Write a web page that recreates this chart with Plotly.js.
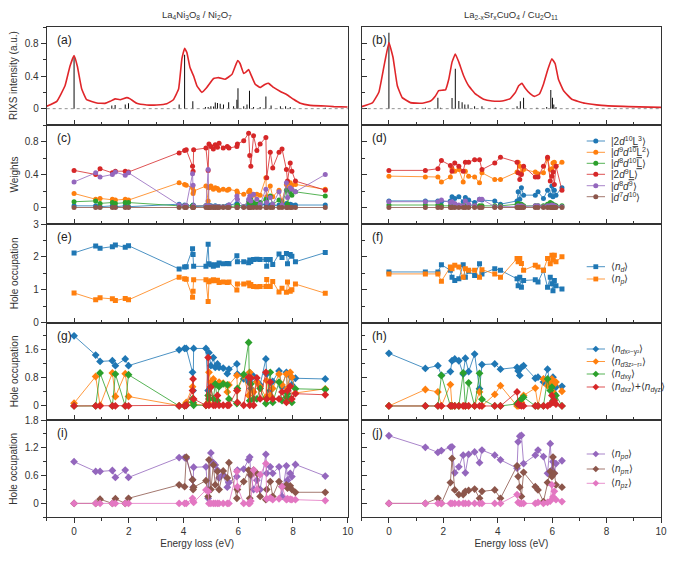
<!DOCTYPE html>
<html><head><meta charset="utf-8">
<script src="https://cdn.plot.ly/plotly-3.0.1.min.js"></script>
<style>html,body{margin:0;padding:0;background:#fff}#chart{width:675px;height:563px}</style>
</head><body><div id="chart"></div>
<script>
// ---------------- DATA ----------------
const A_CURVE_X = [-1,-0.63,-0.33,-0.15,0,0.12,0.28,0.46,0.83,1.13,1.32,1.5,1.68,1.93,2.05,2.29,2.66,3.02,3.39,3.63,3.82,3.94,4.04,4.12,4.24,4.37,4.49,4.67,4.85,5.1,5.28,5.52,5.77,5.89,5.98,6.07,6.2,6.29,6.38,6.46,6.62,6.8,6.99,7.11,7.29,7.54,7.78,8.02,8.27,8.63,9.18,9.49,10];
const A_CURVE_Y = [0.03,0.09,0.28,0.52,0.65,0.52,0.24,0.11,0.07,0.065,0.09,0.12,0.11,0.135,0.12,0.065,0.045,0.045,0.06,0.11,0.24,0.61,0.74,0.69,0.50,0.40,0.28,0.20,0.26,0.37,0.38,0.36,0.42,0.52,0.59,0.55,0.43,0.45,0.48,0.42,0.30,0.26,0.30,0.31,0.26,0.21,0.17,0.115,0.065,0.04,0.033,0.025,0.02];
const A_STICK_X = [0,0.83,1.38,1.5,1.87,1.99,3.84,4.04,4.34,4.8,4.9,5.0,5.1,5.16,5.24,5.34,5.46,5.65,5.83,5.95,5.99,6.2,6.32,6.41,6.56,6.8,7.01,7.2,7.54,7.73,7.9,9.18];
const A_STICK_Y = [0.64,0.01,0.04,0.045,0.05,0.065,0.05,0.66,0.09,0.02,0.02,0.03,0.025,0.075,0.07,0.06,0.05,0.08,0.03,0.11,0.25,0.03,0.05,0.22,0.02,0.02,0.15,0.04,0.03,0.03,0.02,0.01];

const B_CURVE_X = [-1,-0.61,-0.37,-0.18,0,0.15,0.31,0.49,0.79,1.22,1.53,1.71,1.83,1.96,2.08,2.2,2.32,2.44,2.57,2.75,2.93,3.18,3.48,3.79,4.16,4.46,4.65,4.77,4.89,5.01,5.2,5.35,5.53,5.68,5.84,5.99,6.11,6.23,6.42,6.72,7.21,7.82,8.8,10];
const B_CURVE_Y = [0.025,0.07,0.2,0.52,0.81,0.63,0.28,0.135,0.074,0.066,0.094,0.156,0.22,0.226,0.23,0.36,0.57,0.67,0.57,0.40,0.28,0.18,0.115,0.094,0.094,0.123,0.2,0.28,0.31,0.25,0.18,0.15,0.18,0.30,0.48,0.61,0.55,0.36,0.22,0.115,0.066,0.04,0.025,0.016];
const B_STICK_X = [0,1.34,1.8,1.9,2.32,2.44,2.57,2.69,2.79,2.91,3.15,3.42,3.91,4.71,4.83,4.95,5.44,5.8,5.95,6.01,6.06,6.14];
const B_STICK_Y = [0.93,0.01,0.135,0.01,0.13,0.49,0.094,0.08,0.05,0.05,0.03,0.03,0.01,0.03,0.09,0.135,0.01,0.02,0.23,0.135,0.05,0.02];

// eigenstate energies
const E_LEFT = [0,0.79,0.95,1.4,1.51,1.87,1.99,3.84,4.04,4.1,4.33,4.35,4.37,4.82,4.9,4.93,5.0,5.09,5.16,5.24,5.3,5.45,5.6,5.66,5.95,5.97,6.2,6.38,6.42,6.46,6.56,6.68,6.8,7.01,7.04,7.17,7.26,7.49,7.6,7.76,7.8,7.9,7.96,8.09,9.18];
const E_RIGHT = [0,1.34,1.8,1.93,2.26,2.32,2.42,2.57,2.73,2.81,2.93,3.15,3.33,3.42,3.89,4.1,4.71,4.75,4.81,4.87,4.95,5.38,5.48,5.68,5.83,5.93,5.99,6.03,6.08,6.14,6.36];

// (c) weights, left
const WL_2D10L3 = [0.02,0.02,0.01,0.02,0.01,0.02,0.01,0.04,0.03,0.02,0.02,0.03,0.01,0.02,0.01,0.02,0.02,0.01,0.02,0.01,0.01,0.01,0.02,0.03,0.05,0.03,0.01,0.03,0.02,0.04,0.03,0.02,0.03,0.04,0.02,0.03,0.02,0.03,0.02,0.05,0.03,0.04,0.03,0.03,0.03];
const WL_D9D10L2 = [0.17,0.10,0.11,0.10,0.09,0.10,0.09,0.30,0.28,0.27,0.24,0.17,0.20,0.26,0.08,0.24,0.26,0.22,0.24,0.23,0.21,0.22,0.21,0.22,0.20,0.18,0.16,0.19,0.21,0.17,0.15,0.16,0.15,0.36,0.13,0.26,0.13,0.21,0.08,0.28,0.22,0.30,0.27,0.28,0.22];
const WL_D8D10L = [0.07,0.08,0.05,0.06,0.05,0.06,0.06,0.02,0.02,0.02,0.02,0.01,0.02,0.02,0.01,0.02,0.01,0.01,0.01,0.01,0.01,0.01,0.01,0.01,0.02,0.03,0.01,0.07,0.05,0.10,0.06,0.04,0.06,0.10,0.08,0.14,0.04,0.09,0.03,0.21,0.04,0.19,0.15,0.19,0.14];
const WL_2D9L = [0.45,0.40,0.47,0.42,0.44,0.44,0.43,0.66,0.69,0.70,0.50,0.44,0.70,0.72,0.45,0.77,0.74,0.71,0.76,0.73,0.78,0.72,0.74,0.72,0.74,0.77,0.81,0.90,0.63,0.50,0.87,0.69,0.77,0.85,0.36,0.67,0.48,0.67,0.71,0.46,0.32,0.54,0.44,0.32,0.21];
const WL_D8D9 = [0.31,0.42,0.37,0.40,0.43,0.39,0.42,0.03,0.02,0.02,0.41,0.27,0.02,0.02,0.46,0.02,0.01,0.01,0.01,0.01,0.01,0.01,0.01,0.03,0.14,0.10,0.01,0.10,0.14,0.08,0.16,0.10,0.04,0.22,0.06,0.12,0.04,0.19,0.03,0.30,0.12,0.24,0.22,0.19,0.40];
const WL_D7D10 = [0,0,0,0,0,0,0,0,0,0,0,0,0,0,0,0,0,0,0,0,0,0,0,0,0,0,0,0,0,0,0,0,0,0,0,0,0,0,0,0,0,0,0,0,0];
// (d) weights, right
const WR_2D10L3 = [0.08,0.08,0.08,0.07,0.08,0.13,0.11,0.13,0.07,0.12,0.09,0.06,0.10,0.09,0.08,0.04,0.08,0.19,0.10,0.24,0.15,0.15,0.19,0.11,0.21,0.15,0.26,0.13,0.21,0.15,0.24];
const WR_D9D10L2 = [0.38,0.37,0.37,0.31,0.37,0.47,0.44,0.46,0.31,0.44,0.38,0.37,0.30,0.42,0.34,0.34,0.43,0.55,0.50,0.42,0.46,0.43,0.41,0.42,0.59,0.46,0.47,0.54,0.55,0.50,0.55];
const WR_D8D10L = [0.03,0.03,0.03,0.02,0.02,0.02,0.02,0.02,0.02,0.02,0.02,0.02,0.02,0.02,0.02,0.02,0.04,0.05,0.04,0.04,0.02,0.02,0.02,0.02,0.04,0.06,0.05,0.03,0.03,0.02,0.02];
const WR_2D9L = [0.45,0.45,0.47,0.57,0.51,0.44,0.54,0.50,0.44,0.55,0.55,0.58,0.58,0.46,0.54,0.61,0.55,0.42,0.34,0.40,0.50,0.37,0.37,0.50,0.61,0.32,0.38,0.43,0.28,0.50,0.21];
const WR_D8D9 = [0.07,0.07,0.07,0.09,0.06,0.07,0.05,0.03,0.02,0.08,0.04,0.02,0.10,0.10,0.01,0.01,0.01,0.02,0.01,0.02,0.01,0.02,0.02,0.01,0.02,0.02,0.03,0.01,0.02,0.01,0.01];
const WR_D7D10 = [0,0,0,0,0,0,0,0,0,0,0,0,0,0,0,0,0,0,0,0,0,0,0,0,0,0,0,0,0,0,0];

// (e),(f) hole occupation n_d, n_p
const ND_LEFT = [2.12,2.33,2.26,2.31,2.36,2.29,2.34,1.63,1.69,1.70,2.25,2.07,1.71,1.71,2.38,1.79,1.76,1.71,1.76,1.74,1.81,1.79,1.80,1.79,2.03,1.85,1.85,1.82,1.90,1.86,1.92,1.93,1.92,1.92,1.71,1.92,1.77,2.09,1.98,2.10,1.79,2.07,2.02,1.85,2.13];
const NP_LEFT = [0.90,0.69,0.75,0.72,0.67,0.73,0.69,1.38,1.33,1.32,0.77,0.95,1.30,1.30,0.64,1.24,1.27,1.30,1.27,1.29,1.22,1.23,1.22,1.23,0.99,1.17,1.17,1.20,1.12,1.16,1.10,1.09,1.10,1.10,1.31,1.10,1.25,0.93,1.04,0.92,1.23,0.95,1.00,1.17,0.89];
const ND_RIGHT = [1.54,1.54,1.54,1.76,1.59,1.38,1.28,1.33,1.76,1.38,1.56,1.43,1.79,1.48,1.64,1.59,1.33,1.12,1.38,1.07,1.28,1.30,1.23,1.59,1.07,1.38,1.18,0.97,1.28,1.12,1.02];
const NP_RIGHT = [1.48,1.48,1.48,1.26,1.69,1.64,1.74,1.69,1.38,1.64,1.59,1.59,1.38,1.61,1.48,1.38,1.95,1.85,1.95,1.80,1.59,1.74,1.69,1.59,1.95,1.79,2.05,1.90,2.05,1.85,2.00];

// (g),(h) d-orbital hole occupation
const DL_X2Y2 = [2.00,1.45,1.27,1.29,1.15,1.34,1.15,1.60,1.64,1.64,0.96,0.44,1.64,1.64,0.44,1.52,1.15,1.38,1.10,1.20,1.10,1.08,0.92,1.05,1.20,0.91,0.77,0.68,0.95,0.50,0.85,0.70,0.60,1.34,0.91,0.44,0.70,1.00,0.55,0.96,0.44,0.85,0.60,0.79,0.77];
const DL_3Z2R2 = [0.08,0.84,0.02,0.94,0.27,0.92,0.27,0.01,0.02,0.10,0.55,0.20,0.05,0.02,0.10,0.96,0.68,0.77,0.63,0.60,0.68,0.65,0.40,0.60,0.87,0.44,0.87,0.30,0.96,0.82,0.40,0.68,0.55,0.25,0.72,0.30,0.50,0.91,0.60,0.91,0.50,0.96,0.82,0.37,0.49];
const DL_XY = [0.00,0.00,0.94,0.00,0.91,0.00,0.89,0.00,0.00,0.02,0.20,0.10,0.02,0.02,0.30,0.20,0.54,0.20,0.63,0.15,0.55,0.63,0.60,0.20,0.07,0.50,0.90,1.81,0.15,0.63,0.20,0.20,0.50,0.07,0.20,0.96,0.10,0.68,0.15,0.25,0.35,0.20,0.10,0.49,0.47];
const DL_XZYZ = [0,0,0,0,0,0,0,0,0,0.02,0.44,0.77,0.20,0.02,1.38,0.02,0.54,0.02,0.02,0.30,0.02,0.02,0.02,0.02,0.44,0.10,0.02,0.82,0.02,0.80,0.02,0.80,0.20,0.96,0.20,0.68,0.20,0.20,0.40,0.10,0.44,0.56,0.20,0.35,0.32];
const DR_X2Y2 = [1.50,1.07,1.15,0.87,0.98,1.29,1.34,1.29,0.91,1.36,0.98,1.48,0.49,1.18,1.20,1.05,1.10,1.00,0.87,1.10,1.15,0.79,0.82,0.68,1.05,0.58,0.44,0.82,0.35,0.54,0.56];
const DR_3Z2R2 = [0.00,0.47,0.40,0.00,0.61,0.00,0.00,0.00,0.00,0.00,0.00,0.00,0.40,0.00,0.33,0.58,0.00,0.00,0.05,0.10,0.30,0.51,0.00,0.77,0.58,0.68,0.77,0.40,0.62,0.68,0.42];
const DR_XY = [0,0,0,0.87,0,0,0,0,0.94,0,0.66,0,0.93,0.19,0,0,0.06,0.10,0.15,0.20,0.25,0,0,0,0.77,0.44,0.54,0.15,0.20,0.30,0];
const DR_XZYZ = [0,0,0,0,0,0,0,0,0,0,0,0,0,0,0,0,0.40,0.05,0.02,0,0,0,0,0,0,0.05,0.30,0.10,0.15,0.05,0];

// (i),(j) p-orbital hole occupation
const PL_SIGMA = [0.90,0.69,0.69,0.71,0.56,0.72,0.56,0.99,0.99,0.97,0.51,0.35,0.78,0.79,0.11,0.29,1.09,0.88,0.83,0.72,0.55,0.62,0.35,0.45,0.58,0.72,0.74,0.94,1.00,0.60,0.30,0.50,0.30,1.06,0.65,0.79,0.65,0.79,0.15,0.81,0.50,0.65,0.58,0.84,0.59];
const PL_PI = [0,0,0.09,0,0.10,0,0.11,0.40,0.36,1.00,0.51,0.30,0.35,0.49,0.15,0.94,0.30,0.83,0.40,0.69,0.30,0.70,0.55,0.88,0.11,0.30,0.47,0.72,0.11,0.62,0.72,0.65,0.15,0.08,0.30,0.47,0.15,0.47,0.36,0.40,0.33,0.38,0.30,0.24,0.24];
const PL_Z = [0,0,0,0,0,0,0,0,0,0,0.11,0.05,0.02,0.29,0.26,0,0,0,0,0,0,0,0,0,0.69,0.36,0,0,0,0.05,0.72,0.30,0.62,0.86,0.10,0.12,0.08,0.10,0.36,0.08,0.10,0.09,0.08,0.08,0.06];
const PR_SIGMA = [1.46,1.21,1.10,1.14,1.21,1.22,0.66,0.79,1.04,0.66,1.06,1.11,0.88,1.15,1.04,0.94,0.76,1.33,1.45,1.47,0.86,1.04,1.15,1.01,0.65,1.29,0.72,0.90,0.65,0.86,0.92];
const PR_PI = [0,0,0.11,0,0.45,0.97,0.29,0.19,0.19,0.26,0.28,0.31,0.11,0.26,0.29,0.11,0.81,0.58,0.35,0.15,0.67,0.36,0.29,0.04,0.45,0.69,0.58,1.00,0.65,0.40,0.35];
const PR_Z = [0,0,0,0,0,0,0,0,0,0,0,0,0,0,0,0,0.19,0.02,0,0,0,0,0.02,0,0.02,0.05,0.40,0.14,0.26,0.08,0.04];

// labels
const COL_TITLES = ['La<sub>4</sub>Ni<sub>3</sub>O<sub>8</sub> / Ni<sub>2</sub>O<sub>7</sub>', 'La<sub>2-x</sub>Sr<sub>x</sub>CuO<sub>4</sub> / Cu<sub>2</sub>O<sub>11</sub>'];
const ROW_TITLES = ['RIXS intensity (a.u.)','Weights','Hole occupation','Hole occupation','Hole occupation'];
const PANEL_LABELS = ['(a)','(b)','(c)','(d)','(e)','(f)','(g)','(h)','(i)','(j)'];
const X_TITLE = 'Energy loss (eV)';
const LEG_W = ['|2<i>d</i><sup>10</sup><u>L</u><sup>3</sup>⟩','|<i>d</i><sup>9</sup><i>d</i><sup>10</sup><u>L</u><sup>2</sup>⟩','|<i>d</i><sup>8</sup><i>d</i><sup>10</sup><u>L</u>⟩','|2<i>d</i><sup>9</sup><u>L</u>⟩','|<i>d</i><sup>8</sup><i>d</i><sup>9</sup>⟩','|<i>d</i><sup>7</sup><i>d</i><sup>10</sup>⟩'];
const LEG_N = ['⟨<i>n</i><sub><i>d</i></sub>⟩','⟨<i>n</i><sub><i>p</i></sub>⟩'];
const LEG_D = ['⟨<i>n</i><sub><i>d</i><span style="font-size:6.5px">x²−y²</span></sub>⟩','⟨<i>n</i><sub><i>d</i><span style="font-size:6.5px">3z²−r²</span></sub>⟩','⟨<i>n</i><sub><i>d</i><span style="font-size:6.5px">xy</span></sub>⟩','⟨<i>n</i><sub><i>d</i><span style="font-size:6.5px">xz</span></sub>⟩+⟨<i>n</i><sub><i>d</i><span style="font-size:6.5px">yz</span></sub>⟩'];
const LEG_P = ['⟨<i>n</i><sub><i>p</i><span style="font-size:6.5px">σ</span></sub>⟩','⟨<i>n</i><sub><i>p</i><span style="font-size:6.5px">π</span></sub>⟩','⟨<i>n</i><sub><i>p</i><span style="font-size:6.5px">z</span></sub>⟩'];

// ---------------- STYLE / LAYOUT ----------------
const COL = {blue:'#1f77b4', orange:'#ff7f0e', green:'#2ca02c', red:'#d62728', purple:'#9467bd', brown:'#8c564b', pink:'#e377c2'};
function rgba(hex,a){const n=parseInt(hex.slice(1),16);return `rgba(${n>>16},${(n>>8)&255},${n&255},${a})`;}
const W=675,H=563;
const FONT='"Liberation Sans", Arial, sans-serif';
const colX=[[46.7,347.7],[361.7,661]];
const rowY=[[27,125],[125,224],[224,322.5],[322.5,420],[420,517.3]];
const rowCfg=[
  {range:[-0.2,1.0], tv:[0,0.4,0.8], mv:[-0.2,0.2,0.6,1.0]},
  {range:[-0.2,1.0], tv:[0,0.4,0.8], mv:[-0.2,0.2,0.6,1.0]},
  {range:[0,3], tv:[0,1,2,3], mv:[0.5,1.5,2.5]},
  {range:[-0.4,2.38], tv:[0,0.8,1.6], mv:[-0.4,0.4,1.2,2.0]},
  {range:[-0.3,1.8], tv:[0,0.6,1.2,1.8], mv:[-0.3,0.3,0.9,1.5]}
];
const ax = k => (k===1?'':String(k));
const traces=[];
function ser(x,y,color,symbol,size,k){
  traces.push({type:'scatter',mode:'lines+markers',x:x,y:y,xaxis:'x'+ax(k),yaxis:'y'+ax(k),
    line:{color:rgba(color,0.8),width:1},marker:{color:color,size:size,symbol:symbol,line:{width:0}},
    showlegend:false,hoverinfo:'skip'});
}
// (a),(b)
[[A_STICK_X,A_STICK_Y,A_CURVE_X,A_CURVE_Y,1],[B_STICK_X,B_STICK_Y,B_CURVE_X,B_CURVE_Y,2]].forEach(([sx,sy,cx,cy,k])=>{
  traces.push({type:'bar',x:sx,y:sy,width:0.035,marker:{color:'#000',line:{width:0}},xaxis:'x'+ax(k),yaxis:'y'+ax(k),showlegend:false,hoverinfo:'skip'});
  traces.push({type:'scatter',mode:'lines',x:cx,y:cy,line:{color:'#e0262a',width:1.6,shape:'spline',smoothing:0.3},xaxis:'x'+ax(k),yaxis:'y'+ax(k),showlegend:false,hoverinfo:'skip'});
});
// (c),(d)
const wCols=[COL.blue,COL.orange,COL.green,COL.red,COL.purple,COL.brown];
[WL_2D10L3,WL_D9D10L2,WL_D8D10L,WL_2D9L,WL_D8D9,WL_D7D10].forEach((s,i)=>ser(E_LEFT,s,wCols[i],'circle',5,3));
[WR_2D10L3,WR_D9D10L2,WR_D8D10L,WR_2D9L,WR_D8D9,WR_D7D10].forEach((s,i)=>ser(E_RIGHT,s,wCols[i],'circle',5,4));
// (e),(f)
ser(E_LEFT,ND_LEFT,COL.blue,'square',5,5); ser(E_LEFT,NP_LEFT,COL.orange,'square',5,5);
ser(E_RIGHT,ND_RIGHT,COL.blue,'square',5,6); ser(E_RIGHT,NP_RIGHT,COL.orange,'square',5,6);
// (g),(h)
const dCols=[COL.blue,COL.orange,COL.green,COL.red];
[DL_X2Y2,DL_3Z2R2,DL_XY,DL_XZYZ].forEach((s,i)=>ser(E_LEFT,s,dCols[i],'diamond',6,7));
[DR_X2Y2,DR_3Z2R2,DR_XY,DR_XZYZ].forEach((s,i)=>ser(E_RIGHT,s,dCols[i],'diamond',6,8));
// (i),(j)
const pCols=[COL.purple,COL.brown,COL.pink];
[PL_SIGMA,PL_PI,PL_Z].forEach((s,i)=>ser(E_LEFT,s,pCols[i],'diamond',6,9));
[PR_SIGMA,PR_PI,PR_Z].forEach((s,i)=>ser(E_RIGHT,s,pCols[i],'diamond',6,10));

const layout={width:W,height:H,margin:{l:0,r:0,t:0,b:0},paper_bgcolor:'#fff',plot_bgcolor:'#fff',
  font:{family:FONT,size:10,color:'#333'},showlegend:false,barmode:'overlay',shapes:[],annotations:[]};
const LINEC='#333';
for(let r=0;r<5;r++){for(let c=0;c<2;c++){
  const k=r*2+c+1, kt=k+10;
  const xd=[colX[c][0]/W,colX[c][1]/W], yd=[1-rowY[r][1]/H,1-rowY[r][0]/H];
  const cfg=rowCfg[r];
  const bottom=(r===4);
  layout['xaxis'+ax(k)]={domain:xd,anchor:'y'+ax(k),range:[-1,10],tickmode:'array',tickvals:[0,2,4,6,8,10],
    ticks:bottom?'outside':'inside',ticklen:5,tickcolor:LINEC,showticklabels:bottom,tickfont:{size:10,color:'#333'},
    minor:{tickmode:'array',tickvals:[-1,1,3,5,7,9],ticks:bottom?'outside':'inside',ticklen:3,tickcolor:LINEC},
    showline:true,linecolor:LINEC,linewidth:1,mirror:true,showgrid:false,zeroline:false,fixedrange:true};
  if(bottom){layout['xaxis'+ax(k)].title={text:X_TITLE,font:{size:10,color:'#333'},standoff:3};}
  layout['xaxis'+kt]={overlaying:'x'+ax(k),anchor:'y'+ax(k),side:'top',range:[-1,10],tickmode:'array',tickvals:[0,2,4,6,8,10],
    ticks:'inside',ticklen:5,tickcolor:LINEC,showticklabels:false,
    minor:{tickmode:'array',tickvals:[-1,1,3,5,7,9],ticks:'inside',ticklen:3,tickcolor:LINEC},
    showline:false,showgrid:false,zeroline:false,fixedrange:true};
  layout['yaxis'+ax(k)]={domain:yd,anchor:'x'+ax(k),range:cfg.range,tickmode:'array',tickvals:cfg.tv,
    ticks:c===0?'outside':'inside',ticklen:5,tickcolor:LINEC,showticklabels:c===0,tickfont:{size:10,color:'#333'},
    minor:{tickmode:'array',tickvals:cfg.mv,ticks:c===0?'outside':'inside',ticklen:3,tickcolor:LINEC},
    showline:true,linecolor:LINEC,linewidth:1,mirror:true,showgrid:false,zeroline:false,fixedrange:true};
  layout['yaxis'+kt]={overlaying:'y'+ax(k),anchor:'x'+ax(k),side:'right',range:cfg.range,tickmode:'array',tickvals:cfg.tv,
    ticks:'inside',ticklen:5,tickcolor:LINEC,showticklabels:false,
    minor:{tickmode:'array',tickvals:cfg.mv,ticks:'inside',ticklen:3,tickcolor:LINEC},
    showline:false,showgrid:false,zeroline:false,fixedrange:true};
  // panel label
  layout.annotations.push({text:PANEL_LABELS[k-1],xref:'paper',yref:'paper',x:(colX[c][0]+8)/W,y:1-(rowY[r][0]+13)/H,
    xanchor:'left',yanchor:'middle',showarrow:false,font:{size:12,color:'#222'}});
}}
// baseline in (a),(b)
[1,2].forEach(k=>layout.shapes.push({type:'line',xref:'x'+ax(k)+' domain',x0:0,x1:1,yref:'y'+ax(k),y0:0,y1:0,line:{color:'#777',width:0.8,dash:'dot'}}));
// row titles
ROW_TITLES.forEach((t,r)=>layout.annotations.push({text:t,textangle:-90,xref:'paper',yref:'paper',x:14/W,y:1-(rowY[r][0]+rowY[r][1])/2/H,
  xanchor:'center',yanchor:'middle',showarrow:false,font:{size:10,color:'#333'}}));
// column titles
COL_TITLES.forEach((t,c)=>layout.annotations.push({text:t,xref:'paper',yref:'paper',x:(colX[c][0]+colX[c][1])/2/W,y:1-15/H,
  xanchor:'center',yanchor:'middle',showarrow:false,font:{size:9.5,color:'#333'}}));
// legends (drawn as key glyphs + text)
function legend(labels,colors,symbol,ys){
  labels.forEach((t,i)=>{
    const yy=1-ys[i]/H;
    layout.shapes.push({type:'line',xref:'paper',yref:'paper',x0:586.7/W,x1:605/W,y0:yy,y1:yy,line:{color:rgba(colors[i],0.8),width:1}});
    const base={xref:'paper',yref:'paper',xsizemode:'pixel',ysizemode:'pixel',xanchor:595.8/W,yanchor:yy,fillcolor:colors[i],line:{width:0}};
    if(symbol==='circle') layout.shapes.push(Object.assign({type:'circle',x0:-2.5,x1:2.5,y0:-2.5,y1:2.5},base));
    else if(symbol==='square') layout.shapes.push(Object.assign({type:'rect',x0:-2.4,x1:2.4,y0:-2.4,y1:2.4},base));
    else layout.shapes.push(Object.assign({type:'path',path:'M0,3.3 L3.3,0 L0,-3.3 L-3.3,0 Z'},base));
    layout.annotations.push({text:t,xref:'paper',yref:'paper',x:609/W,y:yy,xanchor:'left',yanchor:'middle',showarrow:false,font:{size:10,color:'#333'}});
  });
}
legend(LEG_W,wCols,'circle',[141,152.3,163.3,174.3,185.7,196.7]);
legend(LEG_N,[COL.blue,COL.orange],'square',[266.7,279]);
legend(LEG_D,dCols,'diamond',[349,361.5,374,387]);
legend(LEG_P,pCols,'diamond',[454,469,483.3]);

Plotly.newPlot('chart',traces,layout,{staticPlot:true,displayModeBar:false});
</script></body></html>
